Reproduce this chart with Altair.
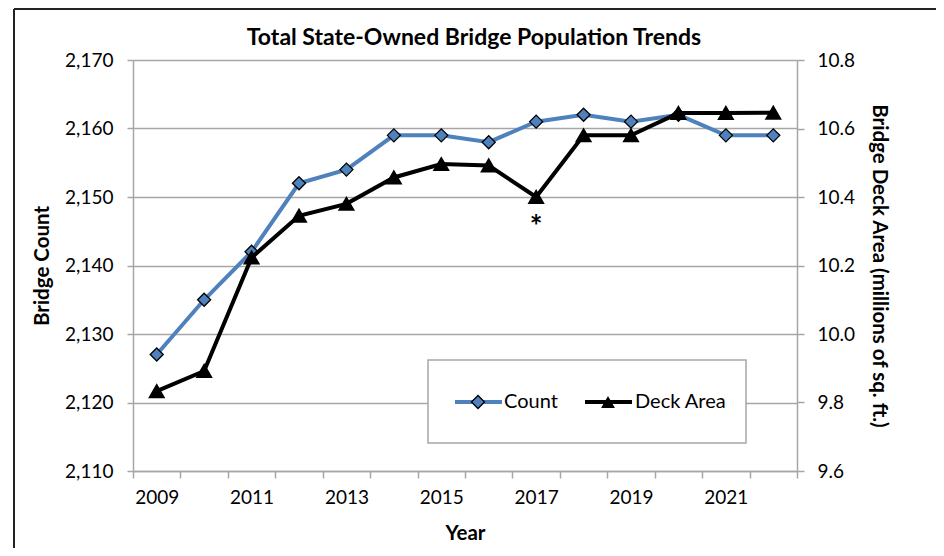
import altair as alt
import pandas as pd

years = [2009, 2010, 2011, 2012, 2013, 2014, 2015, 2016, 2017, 2018, 2019, 2020, 2021, 2022]
bridge_count = [2127, 2135, 2142, 2152, 2154, 2159, 2159, 2158, 2161, 2162, 2161, 2162, 2159, 2159]
deck_area = [9.833, 9.892, 10.223, 10.345, 10.380, 10.457, 10.496, 10.492, 10.400, 10.580, 10.580, 10.645, 10.645, 10.646]
count_ticks = [2110, 2120, 2130, 2140, 2150, 2160, 2170]
area_ticks = [9.6, 9.8, 10.0, 10.2, 10.4, 10.6, 10.8]
note_year = 2017
note_text = "*"
chart_title = "Total State-Owned Bridge Population Trends"

df = pd.DataFrame({"Year": years, "Count": bridge_count, "Deck": deck_area})
note_df = df[df["Year"] == note_year].assign(Note=note_text)

FONT = "Lato"
BLUE = "#4F81BD"
GRAY = "#A6A6A6"

x_enc = alt.X(
    "Year:O",
    bandPosition=0.5,
    scale=alt.Scale(type="band", paddingInner=0, paddingOuter=0),
    axis=alt.Axis(
        title="Year",
        tickBand="extent",
        labelExpr="datum.value % 2 == 1 ? datum.label : ''",
        labelAngle=0,
        tickSize=7,
        labelPadding=10,
        titlePadding=16,
        domainColor=GRAY,
        tickColor=GRAY,
        grid=False,
    ),
)

y_count = alt.Y(
    "Count:Q",
    scale=alt.Scale(domain=[count_ticks[0], count_ticks[-1]], nice=False, zero=False),
    axis=alt.Axis(
        title="Bridge Count",
        values=count_ticks,
        format=",d",
        grid=True,
        gridColor=GRAY,
        domainColor=GRAY,
        tickColor=GRAY,
        tickSize=6,
        labelPadding=14,
        titlePadding=12,
    ),
)

y_deck = alt.Y(
    "Deck:Q",
    scale=alt.Scale(domain=[area_ticks[0], area_ticks[-1]], nice=False, zero=False),
    axis=alt.Axis(
        title="Bridge Deck Area (millions of sq. ft.)",
        orient="right",
        values=area_ticks,
        format=".1f",
        grid=False,
        domainColor=GRAY,
        tickColor=GRAY,
        tickSize=7,
        labelPadding=13,
        titlePadding=14,
    ),
)

base = alt.Chart(df)

count_line = base.mark_line(color=BLUE, strokeWidth=4).encode(x=x_enc, y=y_count)
count_pts = base.mark_point(
    shape="diamond", filled=True, fill=BLUE, stroke="black", strokeWidth=1.3, size=170, opacity=1
).encode(x=x_enc, y=y_count)

deck_line = base.mark_line(color="black", strokeWidth=4).encode(x=x_enc, y=y_deck)
deck_pts = base.mark_point(
    shape="triangle-up", filled=True, fill="black", stroke="black", size=190, opacity=1
).encode(x=x_enc, y=y_deck)
deck_note = alt.Chart(note_df).mark_text(
    font=FONT, fontSize=30, fontWeight="bold", dy=31, color="black"
).encode(x=x_enc, y=y_deck, text="Note:N")

count_layer = alt.layer(count_line, count_pts)
deck_layer = alt.layer(deck_line, deck_pts, deck_note)

one = alt.Data(values=[{}])

title_txt = alt.Chart(one).mark_text(
    text=chart_title, font=FONT, fontSize=23, fontWeight="bold", align="center",
    baseline="middle", color="black"
).encode(x=alt.value(341), y=alt.value(-22))

legend_box = alt.Chart(one).mark_rect(fill="white", stroke=GRAY, strokeWidth=1.5).encode(
    x=alt.value(295), x2=alt.value(613), y=alt.value(300), y2=alt.value(383)
)
leg_count_line = alt.Chart(one).mark_rule(color=BLUE, strokeWidth=4).encode(
    x=alt.value(322), x2=alt.value(369), y=alt.value(342)
)
leg_count_pt = alt.Chart(one).mark_point(
    shape="diamond", filled=True, fill=BLUE, stroke="black", strokeWidth=1.3, size=170, opacity=1
).encode(x=alt.value(345), y=alt.value(342))
leg_count_txt = alt.Chart(one).mark_text(
    text="Count", font=FONT, fontSize=20, align="left", baseline="middle", color="black"
).encode(x=alt.value(371), y=alt.value(342))
leg_deck_line = alt.Chart(one).mark_rule(color="black", strokeWidth=4).encode(
    x=alt.value(452), x2=alt.value(499), y=alt.value(342)
)
leg_deck_pt = alt.Chart(one).mark_point(
    shape="triangle-up", filled=True, fill="black", size=190, opacity=1
).encode(x=alt.value(475), y=alt.value(342))
leg_deck_txt = alt.Chart(one).mark_text(
    text="Deck Area", font=FONT, fontSize=20, align="left", baseline="middle", color="black"
).encode(x=alt.value(502), y=alt.value(342))

border_left = alt.Chart(one).mark_rule(color="#222222", strokeWidth=2).encode(
    x=alt.value(-119), y=alt.value(-51), y2=alt.value(488)
)
border_right = alt.Chart(one).mark_rule(color="#222222", strokeWidth=2).encode(
    x=alt.value(804), y=alt.value(-51), y2=alt.value(488)
)
border_top = alt.Chart(one).mark_rule(color="#222222", strokeWidth=2).encode(
    x=alt.value(-119), x2=alt.value(804), y=alt.value(-51)
)

chart = (
    alt.layer(
        count_layer,
        deck_layer,
        title_txt,
        legend_box,
        leg_count_line,
        leg_count_pt,
        leg_count_txt,
        leg_deck_line,
        leg_deck_pt,
        leg_deck_txt,
        border_left,
        border_right,
        border_top,
    )
    .resolve_scale(y="independent")
    .properties(
        width=664,
        height=411,
        autosize=alt.AutoSizeParams(type="none"),
        padding={"left": 125, "top": 52, "right": 139, "bottom": 77},
    )
    .configure_view(strokeOpacity=0)
    .configure_axis(
        labelFont=FONT,
        labelFontSize=19,
        labelColor="black",
        titleFont=FONT,
        titleFontSize=20.5,
        titleFontWeight="bold",
        titleColor="black",
        domainWidth=1.5,
        tickWidth=1.5,
        gridWidth=1.5,
    )
)

chart.save("out.html", embed_options={"renderer": "svg", "actions": False})
